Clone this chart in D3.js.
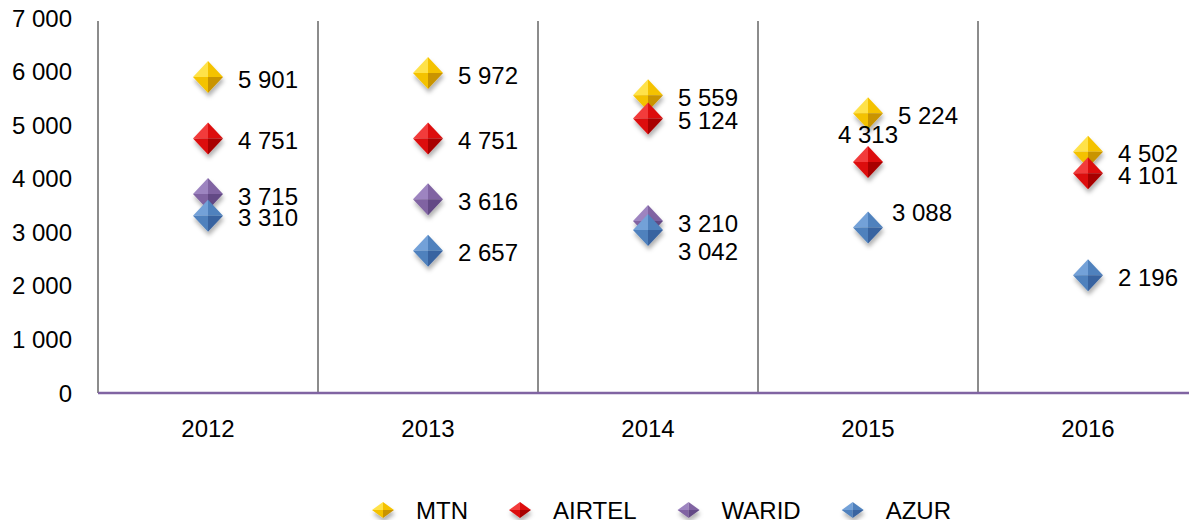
<!DOCTYPE html>
<html>
<head>
<meta charset="utf-8">
<script src="https://cdn.jsdelivr.net/npm/d3@7"></script>
<style>
  body { margin: 0; background: #fff; }
  svg { display: block; }
  text { font-family: "Liberation Sans", Arial, sans-serif; fill: #000; }
</style>
</head>
<body>
<svg class="board" width="1189" height="520"></svg>
<script>
// chart values
var years = ['2012', '2013', '2014', '2015', '2016'];
var operators = ['MTN', 'AIRTEL', 'WARID', 'AZUR'];
var mtn = [5901, 5972, 5559, 5224, 4502];
var airtel = [4751, 4751, 5124, 4313, 4101];
var warid = [3715, 3616, 3210, null, null];
var azur = [3310, 2657, 3042, 3088, 2196];
var yTicks = [0, 1000, 2000, 3000, 4000, 5000, 6000, 7000];

var seriesValues = { MTN: mtn, AIRTEL: airtel, WARID: warid, AZUR: azur };

// shading per operator: light top, base, dark bottom
var shades = {
  MTN: { light: '#ffe24a', base: '#f4c200', dark: '#c99400' },
  AIRTEL: { light: '#f23a3a', base: '#dc0a0a', dark: '#a80000' },
  WARID: { light: '#9d84c0', base: '#8064a2', dark: '#634985' },
  AZUR: { light: '#73a1d8', base: '#4f81bd', dark: '#3863a0' }
};

// label nudges where the original moved a label off its default spot
var labelNudge = {
  'AZUR-2014': { dx: 30, dy: 21, anchor: 'start' },
  'AIRTEL-2015': { dx: 0, dy: -28, anchor: 'middle' },
  'AZUR-2015': { dx: 24, dy: -15, anchor: 'start' }
};

var svg = d3.select('.board');
var plotLeft = 98, bandW = 220, plotTop = 18, plotBottom = 393;
var fontSize = 24;

var x = d3.scaleBand().domain(years).range([plotLeft, plotLeft + bandW * years.length]).padding(0);
var y = d3.scaleLinear().domain([0, 7000]).range([plotBottom, plotTop]);

var fmt = d3.formatLocale({ decimal: ',', thousands: ' ', grouping: [3], currency: ['', ''] }).format(',d');

var defs = svg.append('defs');
var shadow = defs.append('filter').attr('id', 'shadow')
  .attr('x', '-50%').attr('y', '-50%').attr('width', '200%').attr('height', '200%');
shadow.append('feDropShadow').attr('dx', 1).attr('dy', 4)
  .attr('stdDeviation', 2.2).attr('flood-color', '#000').attr('flood-opacity', 0.3);

// separators and axis lines
svg.append('g').selectAll('line').data(years).enter().append('line')
  .attr('x1', d => x(d)).attr('x2', d => x(d))
  .attr('y1', y(7000) + 3).attr('y2', plotBottom)
  .attr('stroke', '#8c8c8c').attr('stroke-width', 2);

svg.append('line')
  .attr('x1', plotLeft).attr('x2', x.range()[1])
  .attr('y1', plotBottom).attr('y2', plotBottom)
  .attr('stroke', '#8064a2').attr('stroke-width', 2.5);

// y tick labels
svg.append('g').selectAll('text').data(yTicks).enter().append('text')
  .attr('x', 72).attr('y', d => y(d))
  .attr('dy', '0.36em')
  .attr('text-anchor', 'end')
  .style('font-size', fontSize + 'px')
  .text(d => fmt(d));

// x labels
svg.append('g').selectAll('text').data(years).enter().append('text')
  .attr('x', d => x(d) + x.bandwidth() / 2).attr('y', 428)
  .attr('dy', '0.36em')
  .attr('text-anchor', 'middle')
  .style('font-size', fontSize + 'px')
  .text(d => d);

// beveled diamond: four facets
function diamond(g, hw, hh, c) {
  g.append('path').attr('d', `M0,${-hh}L${-hw},0L0,0Z`).attr('fill', c.light);
  g.append('path').attr('d', `M0,${-hh}L${hw},0L0,0Z`).attr('fill', c.base);
  g.append('path').attr('d', `M${-hw},0L0,${hh}L0,0Z`).attr('fill', c.base);
  g.append('path').attr('d', `M${hw},0L0,${hh}L0,0Z`).attr('fill', c.dark);
}

var points = [];
operators.forEach(function (op) {
  seriesValues[op].forEach(function (v, i) {
    if (v == null) return;
    points.push({ op: op, year: years[i], value: v });
  });
});

var marks = svg.append('g').selectAll('g.mark').data(points).enter().append('g')
  .classed('mark', true)
  .attr('filter', 'url(#shadow)')
  .attr('transform', d => `translate(${x(d.year) + x.bandwidth() / 2},${y(d.value)})`);
marks.each(function (d) { diamond(d3.select(this), 15, 16, shades[d.op]); });

svg.append('g').selectAll('text').data(points).enter().append('text')
  .each(function (d) {
    var n = labelNudge[d.op + '-' + d.year] || { dx: 30, dy: 2, anchor: 'start' };
    d3.select(this)
      .attr('x', x(d.year) + x.bandwidth() / 2 + n.dx)
      .attr('y', y(d.value) + n.dy)
      .attr('text-anchor', n.anchor);
  })
  .attr('dy', '0.36em')
  .style('font-size', fontSize + 'px')
  .text(d => fmt(d.value));

// legend
var legend = svg.append('g');
var items = legend.selectAll('g').data(operators).enter().append('g');
items.each(function (op) {
  var g = d3.select(this);
  var m = g.append('g').attr('filter', 'url(#shadow)');
  diamond(m, 11, 8, shades[op]);
  g.append('text').attr('x', 33).attr('dy', '0.36em')
    .style('font-size', fontSize + 'px').text(op);
});
var cursor = 383, gap = 52;
items.each(function () {
  var g = d3.select(this);
  var w = g.select('text').node().getComputedTextLength();
  g.attr('transform', `translate(${cursor},510)`);
  cursor += 33 + w + gap;
});
</script>
</body>
</html>
